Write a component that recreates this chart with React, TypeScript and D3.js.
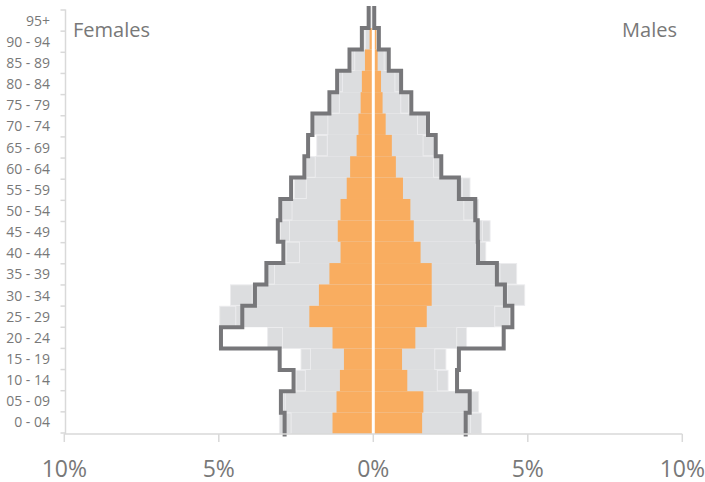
import React from "react";
import * as d3 from "d3";

const ageGroups = ["0 - 04","05 - 09","10 - 14","15 - 19","20 - 24","25 - 29","30 - 34","35 - 39","40 - 44","45 - 49","50 - 54","55 - 59","60 - 64","65 - 69","70 - 74","75 - 79","80 - 84","85 - 89","90 - 94","95+"];

// orange bars (%)
const femalesMain = [1.32,1.19,1.08,0.95,1.32,2.07,1.76,1.42,1.06,1.15,1.06,0.86,0.75,0.54,0.48,0.41,0.37,0.27,0.12,0.03];
const malesMain   = [1.58,1.62,1.10,0.93,1.36,1.73,1.89,1.89,1.53,1.31,1.20,0.96,0.73,0.60,0.40,0.30,0.25,0.14,0.10,0.03];

// light grey comparison bars (%): outer extent (A) and inner extent (B)
const femalesRefA = [3.04,2.92,2.50,2.34,3.42,4.97,4.62,3.43,2.82,3.01,2.94,2.55,2.16,1.83,1.90,1.35,1.10,0.69,0.28,0.08];
const femalesRefB = [2.66,2.85,2.20,2.03,2.94,4.45,3.92,3.20,2.39,2.71,2.63,2.17,1.88,1.49,1.47,1.10,1.00,0.60,0.25,0.06];
const malesRefA   = [3.50,3.41,2.42,2.35,3.02,4.42,4.90,4.64,3.64,3.78,3.40,3.13,2.15,1.97,1.72,1.15,0.85,0.45,0.10,0.04];
const malesRefB   = [3.15,3.15,2.07,1.99,2.70,3.93,4.33,4.10,3.45,3.53,2.93,2.88,1.95,1.61,1.43,0.89,0.70,0.35,0.08,0.03];

// dark outline (%)
const femalesOutline = [2.87,2.99,2.58,3.03,4.93,4.24,3.83,3.46,2.91,3.09,3.01,2.66,2.23,2.11,1.97,1.42,1.17,0.77,0.37,0.15];
const malesOutline   = [2.99,3.12,2.71,2.77,4.22,4.50,4.26,4.00,3.39,3.38,3.30,2.77,2.20,2.02,1.77,1.23,0.90,0.50,0.18,0.03];

const xTicks = [-10, -5, 0, 5, 10];

const W = 705, H = 482;
const FONT = "'Open Sans', 'Liberation Sans', sans-serif";
const TEXT = "#787878";
const AXIS = "#d9d9d9";
const GREY = "#dcdddf";
const ORANGE = "#f9ad60";
const DARK = "#77777a";

export default function App() {
  const x = d3.scaleLinear().domain([-10, 10]).range([64.3, 682.3]);
  const topDown = ageGroups.slice().reverse();
  const yBar = d3.scaleBand().domain(topDown).range([6.7, 434]).padding(0);
  const yAxis = d3.scaleBand().domain(topDown).range([10, 433]).padding(0);
  const bw = yBar.bandwidth();
  const x0 = x(0);

  const bars = (vals: number[], sign: number, fill: string) =>
    vals.map((v, i) => {
      const xv = x(sign * v);
      const y = yBar(ageGroups[i])!;
      return (
        <rect key={i} x={Math.min(xv, x0)} y={y} width={Math.abs(xv - x0)} height={bw} fill={fill} />
      );
    });

  // stacked segment between inner and outer grey extents, with a faint edge
  const segs = (inner: number[], outer: number[], sign: number) =>
    inner.map((v, i) => {
      const a = x(sign * v);
      const b = x(sign * outer[i]);
      const y = yBar(ageGroups[i])!;
      return (
        <rect key={i} x={Math.min(a, b)} y={y + 0.4} width={Math.abs(b - a)} height={bw - 0.8}
          fill={GREY} stroke="#ececee" strokeWidth={0.9} />
      );
    });

  const outlinePath = (vals: number[], sign: number) => {
    const pts: [number, number][] = [];
    vals.forEach((v, i) => {
      const y = yBar(ageGroups[i])!;
      const bottom = i === 0 ? y + bw + 2.5 : y + bw;
      const top = i === vals.length - 1 ? y - 0.7 : y;
      pts.push([x(sign * v), bottom]);
      pts.push([x(sign * v), top]);
    });
    return d3.line()(pts) || "";
  };

  const boundaries = [...topDown.map((g) => yAxis(g)!), yAxis(topDown[topDown.length - 1])! + yAxis.bandwidth()];

  return (
    <svg width={W} height={H} style={{ position: "absolute", left: 0, top: 0, background: "#fff" }} fontFamily={FONT}>
      {/* grey comparison bars */}
      {bars(femalesRefB, -1, GREY)}
      {bars(malesRefB, 1, GREY)}
      {segs(femalesRefB, femalesRefA, -1)}
      {segs(malesRefB, malesRefA, 1)}
      {/* orange bars */}
      {bars(femalesMain, -1, ORANGE)}
      {bars(malesMain, 1, ORANGE)}
      {/* centre line */}
      <line x1={x0} x2={x0} y1={6} y2={434} stroke="#fff" strokeWidth={3} />
      {/* outlines */}
      <path d={outlinePath(femalesOutline, -1)} fill="none" stroke={DARK} strokeWidth={4} strokeLinejoin="miter" />
      <path d={outlinePath(malesOutline, 1)} fill="none" stroke={DARK} strokeWidth={4} strokeLinejoin="miter" />

      {/* y axis */}
      <line x1={65.5} x2={65.5} y1={9.5} y2={434} stroke={AXIS} strokeWidth={1.5} />
      {boundaries.map((b, i) => (
        <line key={i} x1={60.5} x2={65.5} y1={b} y2={b} stroke={AXIS} strokeWidth={1.5} />
      ))}
      {ageGroups.map((g) => (
        <text key={g} x={50} y={yAxis(g)! + yAxis.bandwidth() / 2} dy="0.36em" textAnchor="end"
          fontSize={14} fill={TEXT}>{g}</text>
      ))}

      {/* x axis */}
      <line x1={64.3} x2={682.3} y1={434} y2={434} stroke={AXIS} strokeWidth={1.5} />
      {xTicks.map((t) => (
        <g key={t}>
          <line x1={x(t)} x2={x(t)} y1={434} y2={442} stroke={AXIS} strokeWidth={1.5} />
          <text x={x(t)} y={476.5} textAnchor="middle" fontSize={23} fill={TEXT}>{Math.abs(t) + "%"}</text>
        </g>
      ))}

      <text x={73} y={36.7} fontSize={20} fill={TEXT}>Females</text>
      <text x={677} y={36.7} fontSize={20} fill={TEXT} textAnchor="end">Males</text>
    </svg>
  );
}
